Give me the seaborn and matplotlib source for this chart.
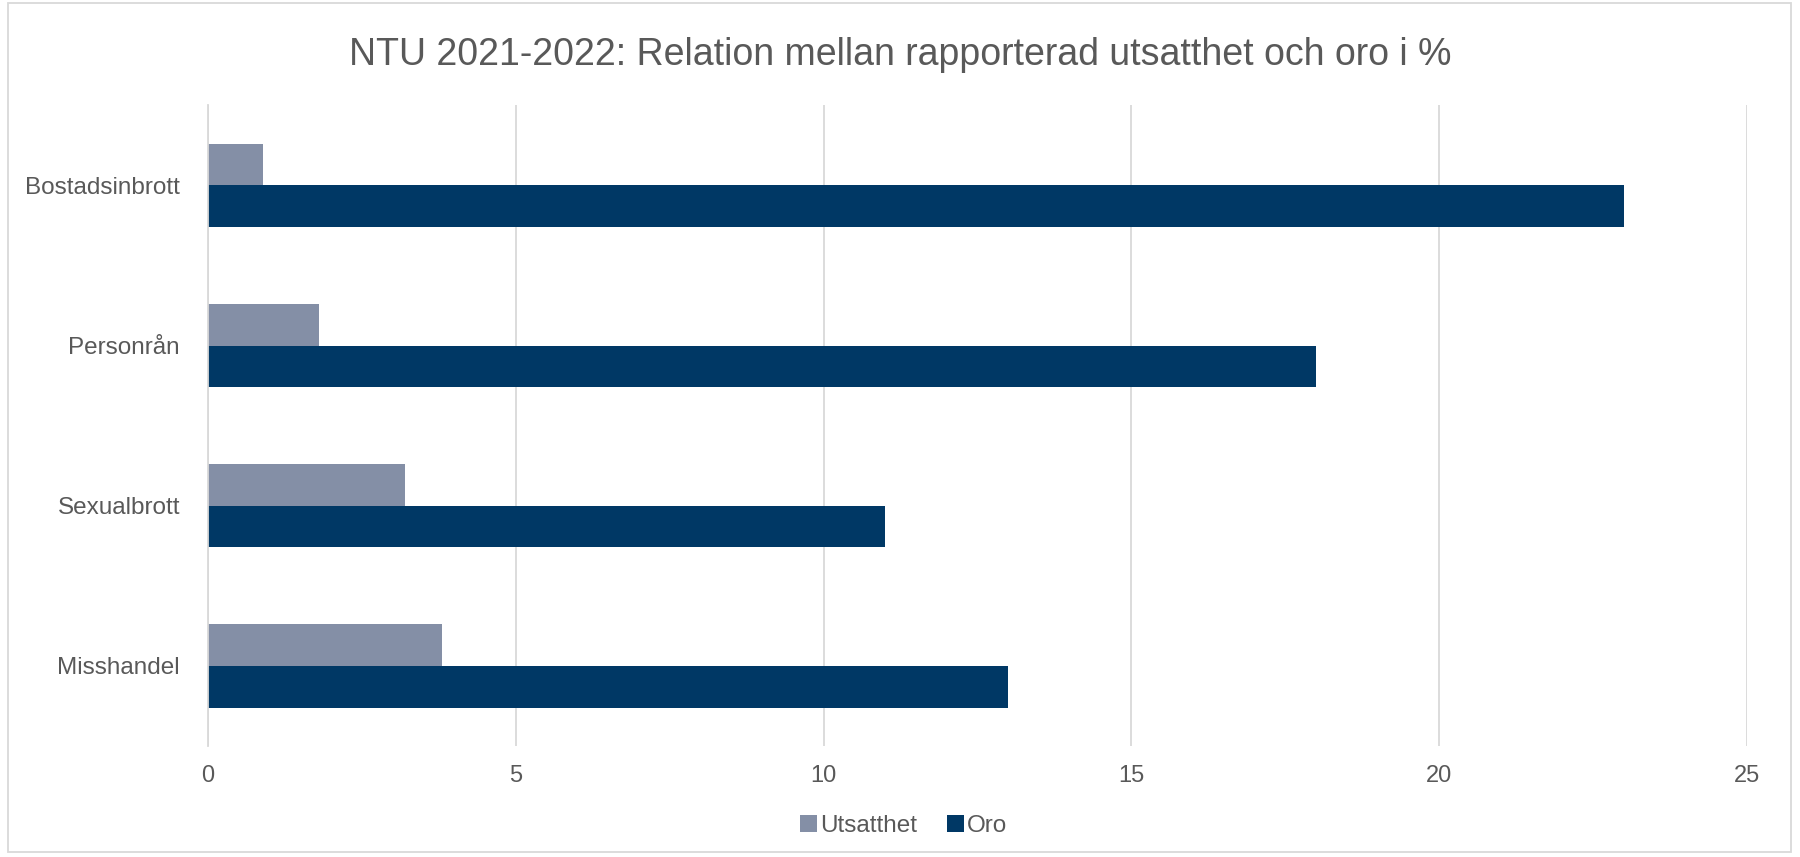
import matplotlib
matplotlib.use("Agg")
import matplotlib.pyplot as plt
import seaborn as sns
import pandas as pd
from matplotlib.patches import Rectangle, Patch

categories = ["Bostadsinbrott", "Personrån", "Sexualbrott", "Misshandel"]
utsatthet = [0.9, 1.8, 3.2, 3.8]
oro = [23.0, 18.0, 11.0, 13.0]
series_names = ["Utsatthet", "Oro"]
xticks = [0, 5, 10, 15, 20, 25]
title = "NTU 2021-2022: Relation mellan rapporterad utsatthet och oro i %"

df = pd.DataFrame({
    "Kategori": categories * 2,
    "Serie": [series_names[0]] * len(categories) + [series_names[1]] * len(categories),
    "Värde": utsatthet + oro,
})

sns.set_theme(style="white")
plt.rcParams["font.family"] = ["Liberation Sans", "DejaVu Sans"]

text_color = "#595959"
grid_color = "#d9d9d9"
colors = {"Utsatthet": "#848FA6", "Oro": "#003865"}

fig = plt.figure(figsize=(18, 8.57), dpi=100)
ax = fig.add_axes([0.1155, 0.1295, 0.855, 0.7475])

sns.barplot(data=df, y="Kategori", x="Värde", hue="Serie", order=categories,
            hue_order=series_names, palette=colors, orient="h", width=0.52,
            saturation=1, ax=ax, legend=False, linewidth=0)

ax.set_xlim(0, 25)
ax.set_xticks(xticks)
ax.set_xticklabels([str(t) for t in xticks])
ax.xaxis.grid(True, color=grid_color, linewidth=1.3)
ax.set_axisbelow(True)
for s in ["top", "right", "bottom"]:
    ax.spines[s].set_visible(False)
ax.spines["left"].set_color(grid_color)
ax.spines["left"].set_linewidth(1.3)
ax.set_xlabel("")
ax.set_ylabel("")
ax.tick_params(axis="x", length=0, labelsize=17, colors=text_color, pad=14)
ax.tick_params(axis="y", length=0, labelsize=17.5, colors=text_color, pad=20)

fig.suptitle(title, y=0.957, fontsize=27, color=text_color)

handles = [Patch(facecolor=colors[n], edgecolor="none", label=n) for n in series_names]
fig.legend(handles=handles, loc="center", bbox_to_anchor=(0.502, 0.036), ncol=2,
           frameon=False, fontsize=17.5, labelcolor=text_color, handlelength=0.7,
           handleheight=0.7, handletextpad=0.12, columnspacing=1.25)

fig.patches.append(Rectangle((0.0045, 0.006), 0.9905, 0.99, transform=fig.transFigure,
                             fill=False, edgecolor=grid_color, linewidth=1.3))

fig.savefig("out.png", dpi=100, facecolor="white")
